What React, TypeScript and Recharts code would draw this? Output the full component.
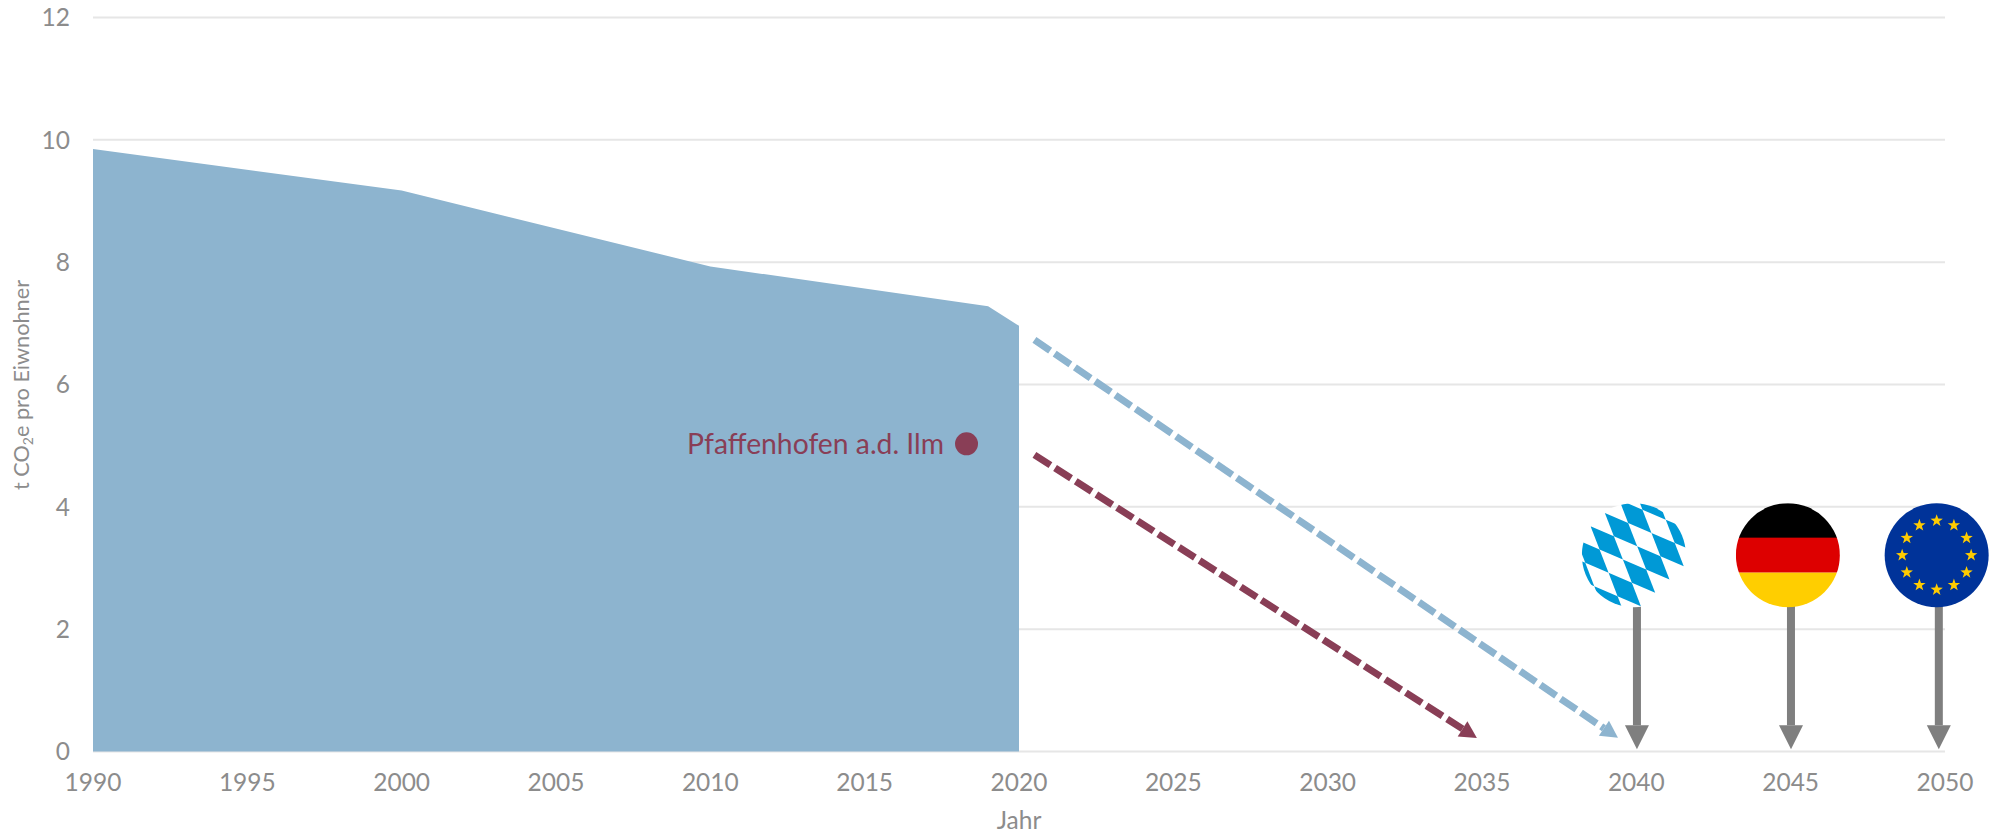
import {
  ComposedChart,
  Area,
  Line,
  Scatter,
  XAxis,
  YAxis,
  CartesianGrid,
  Label,
  LabelList,
} from "recharts";

const emissions = [
  { year: 1990, value: 9.85 },
  { year: 2000, value: 9.17 },
  { year: 2010, value: 7.93 },
  { year: 2019, value: 7.28 },
  { year: 2020, value: 6.96 },
];
const nationalPath = [
  { year: 2020.5, value: 6.73 },
  { year: 2038.95, value: 0.38 },
];
const cityPath = [
  { year: 2020.5, value: 4.85 },
  { year: 2034.37, value: 0.37 },
];
const cityPoint = [{ year: 2018.3, value: 5.03, name: "Pfaffenhofen a.d. Ilm" }];
const bavariaFlag = [{ year: 2039.92, value: 3.21 }];
const germanyFlag = [{ year: 2044.91, value: 3.21 }];
const europeFlag = [{ year: 2049.73, value: 3.21 }];
const bavariaStem = [
  { year: 2040.02, value: 2.38 },
  { year: 2040.02, value: 0.43 },
];
const germanyStem = [
  { year: 2045.01, value: 2.38 },
  { year: 2045.01, value: 0.43 },
];
const europeStem = [
  { year: 2049.8, value: 2.38 },
  { year: 2049.8, value: 0.43 },
];
const xTicks = [1990, 1995, 2000, 2005, 2010, 2015, 2020, 2025, 2030, 2035, 2040, 2045, 2050];
const yTicks = [0, 2, 4, 6, 8, 10, 12];

const BLUE = "#8db4cf";
const MAROON = "#893e56";
const GREY = "#7f7f7f";
const TEXT = "#8c8c8c";
const FONT = "Lato, sans-serif";
const FLAG_R = 52;

// arrow head drawn forward from the last point of the line
function arrowDot(color: string, length: number, width: number) {
  return (props: any) => {
    const { cx, cy, index, points } = props;
    if (!points || index !== points.length - 1) return <g key={index} />;
    const a = Math.atan2(cy - points[0].y, cx - points[0].x);
    const deg = (a * 180) / Math.PI;
    return (
      <polygon
        key={index}
        points={`0,${-width / 2} ${length},0 0,${width / 2}`}
        fill={color}
        transform={`translate(${cx},${cy}) rotate(${deg})`}
      />
    );
  };
}

function BavariaShape({ cx, cy }: any) {
  const cells = [
    [-3, 3], [-2, 2], [-1, 1], [0, 0], [1, -1], [2, -2],
    [-2, 4], [-1, 3], [0, 2], [1, 1], [2, 0], [3, -1], [4, -2],
  ];
  const o = [-29, -42.2];
  const e1 = [23.3, 10];
  const e2 = [9, 23.3];
  return (
    <g transform={`translate(${cx},${cy})`}>
      <clipPath id="bavariaClip">
        <circle r={FLAG_R} />
      </clipPath>
      <circle r={FLAG_R} fill="#fff" />
      <g clipPath="url(#bavariaClip)" fill="#0099d6">
        {cells.map(([i, j]) => {
          const x = o[0] + i * e1[0] + j * e2[0];
          const y = o[1] + i * e1[1] + j * e2[1];
          const pts = [
            [x, y],
            [x + e1[0], y + e1[1]],
            [x + e1[0] + e2[0], y + e1[1] + e2[1]],
            [x + e2[0], y + e2[1]],
          ];
          return <polygon key={`${i}_${j}`} points={pts.map((p) => p.join(",")).join(" ")} />;
        })}
      </g>
    </g>
  );
}

function GermanyShape({ cx, cy }: any) {
  return (
    <g transform={`translate(${cx},${cy})`}>
      <clipPath id="germanyClip">
        <circle r={FLAG_R} />
      </clipPath>
      <g clipPath="url(#germanyClip)">
        <rect x={-FLAG_R} y={-FLAG_R} width={FLAG_R * 2} height={35} fill="#000" />
        <rect x={-FLAG_R} y={-17.5} width={FLAG_R * 2} height={35} fill="#dd0000" />
        <rect x={-FLAG_R} y={17.5} width={FLAG_R * 2} height={35} fill="#ffce00" />
      </g>
    </g>
  );
}

function starPoints(x: number, y: number, r: number) {
  const pts: string[] = [];
  for (let i = 0; i < 10; i++) {
    const rad = i % 2 === 0 ? r : r * 0.4;
    const a = -Math.PI / 2 + (i * Math.PI) / 5;
    pts.push(`${x + rad * Math.cos(a)},${y + rad * Math.sin(a)}`);
  }
  return pts.join(" ");
}

function EuropeShape({ cx, cy }: any) {
  const stars = [0, 1, 2, 3, 4, 5, 6, 7, 8, 9, 10, 11];
  return (
    <g transform={`translate(${cx},${cy})`}>
      <circle r={FLAG_R} fill="#003399" />
      {stars.map((s) => {
        const a = (s * Math.PI) / 6;
        return (
          <polygon key={s} points={starPoints(34.5 * Math.sin(a), -34.5 * Math.cos(a), 6.5)} fill="#ffcc00" />
        );
      })}
    </g>
  );
}

function YTitle() {
  return (
    <text
      transform="translate(29,385) rotate(-90)"
      textAnchor="middle"
      fontFamily={FONT}
      fontSize={21.7}
      fill={TEXT}
    >
      t CO<tspan fontSize={14} dy={4}>2</tspan>
      <tspan dy={-4}>e pro Eiwnohner</tspan>
    </text>
  );
}

const stemProps = {
  dataKey: "value",
  stroke: GREY,
  strokeWidth: 8,
  legendType: "none" as const,
  isAnimationActive: false,
  activeDot: false,
  dot: arrowDot(GREY, 24, 24),
};

export default function App() {
  return (
    <div style={{ position: "absolute", left: 0, top: 0, width: 1995, height: 834, background: "#fff" }}>
      <ComposedChart width={1995} height={834} margin={{ top: 17.5, right: 50, left: 0, bottom: 22.5 }}>
        <CartesianGrid horizontal vertical={false} stroke="#e6e6e6" strokeWidth={2} />
        <XAxis
          type="number"
          dataKey="year"
          domain={[1990, 2050]}
          ticks={xTicks}
          interval={0}
          height={60}
          tickLine={false}
          axisLine={false}
          tickMargin={16}
          tick={{ fontFamily: FONT, fontSize: 24.5, fill: TEXT }}
        >
          <Label
            value="Jahr"
            position="bottom"
            offset={0}
            style={{ fontFamily: FONT, fontSize: 24.5, fill: TEXT }}
          />
        </XAxis>
        <YAxis
          type="number"
          dataKey="value"
          domain={[0, 12]}
          ticks={yTicks}
          interval={0}
          width={93}
          tickLine={false}
          axisLine={false}
          tickMargin={17}
          tick={{ fontFamily: FONT, fontSize: 24.5, fill: TEXT }}
        >
          <Label content={<YTitle />} />
        </YAxis>
        <Area
          data={emissions}
          dataKey="value"
          type="linear"
          fill={BLUE}
          fillOpacity={1}
          stroke="none"
          dot={false}
          activeDot={false}
          isAnimationActive={false}
        />
        <Line
          data={nationalPath}
          dataKey="value"
          type="linear"
          stroke={BLUE}
          strokeWidth={7}
          strokeDasharray="19 5.5"
          dot={arrowDot(BLUE, 17, 18)}
          activeDot={false}
          isAnimationActive={false}
        />
        <Line
          data={cityPath}
          dataKey="value"
          type="linear"
          stroke={MAROON}
          strokeWidth={7}
          strokeDasharray="19 5.5"
          dot={arrowDot(MAROON, 17, 18)}
          activeDot={false}
          isAnimationActive={false}
        />
        <Line data={bavariaStem} type="linear" {...stemProps} />
        <Line data={germanyStem} type="linear" {...stemProps} />
        <Line data={europeStem} type="linear" {...stemProps} />
        <Scatter
          data={cityPoint}
          dataKey="value"
          fill={MAROON}
          isAnimationActive={false}
          shape={(p: any) => <circle cx={p.cx} cy={p.cy} r={11.5} fill={MAROON} />}
        >
          <LabelList
            dataKey="name"
            position="left"
            offset={18}
            style={{ fontFamily: FONT, fontSize: 28.3, fill: MAROON }}
          />
        </Scatter>
        <Scatter data={bavariaFlag} dataKey="value" isAnimationActive={false} shape={(p: any) => <BavariaShape {...p} />} />
        <Scatter data={germanyFlag} dataKey="value" isAnimationActive={false} shape={(p: any) => <GermanyShape {...p} />} />
        <Scatter data={europeFlag} dataKey="value" isAnimationActive={false} shape={(p: any) => <EuropeShape {...p} />} />
      </ComposedChart>
    </div>
  );
}
